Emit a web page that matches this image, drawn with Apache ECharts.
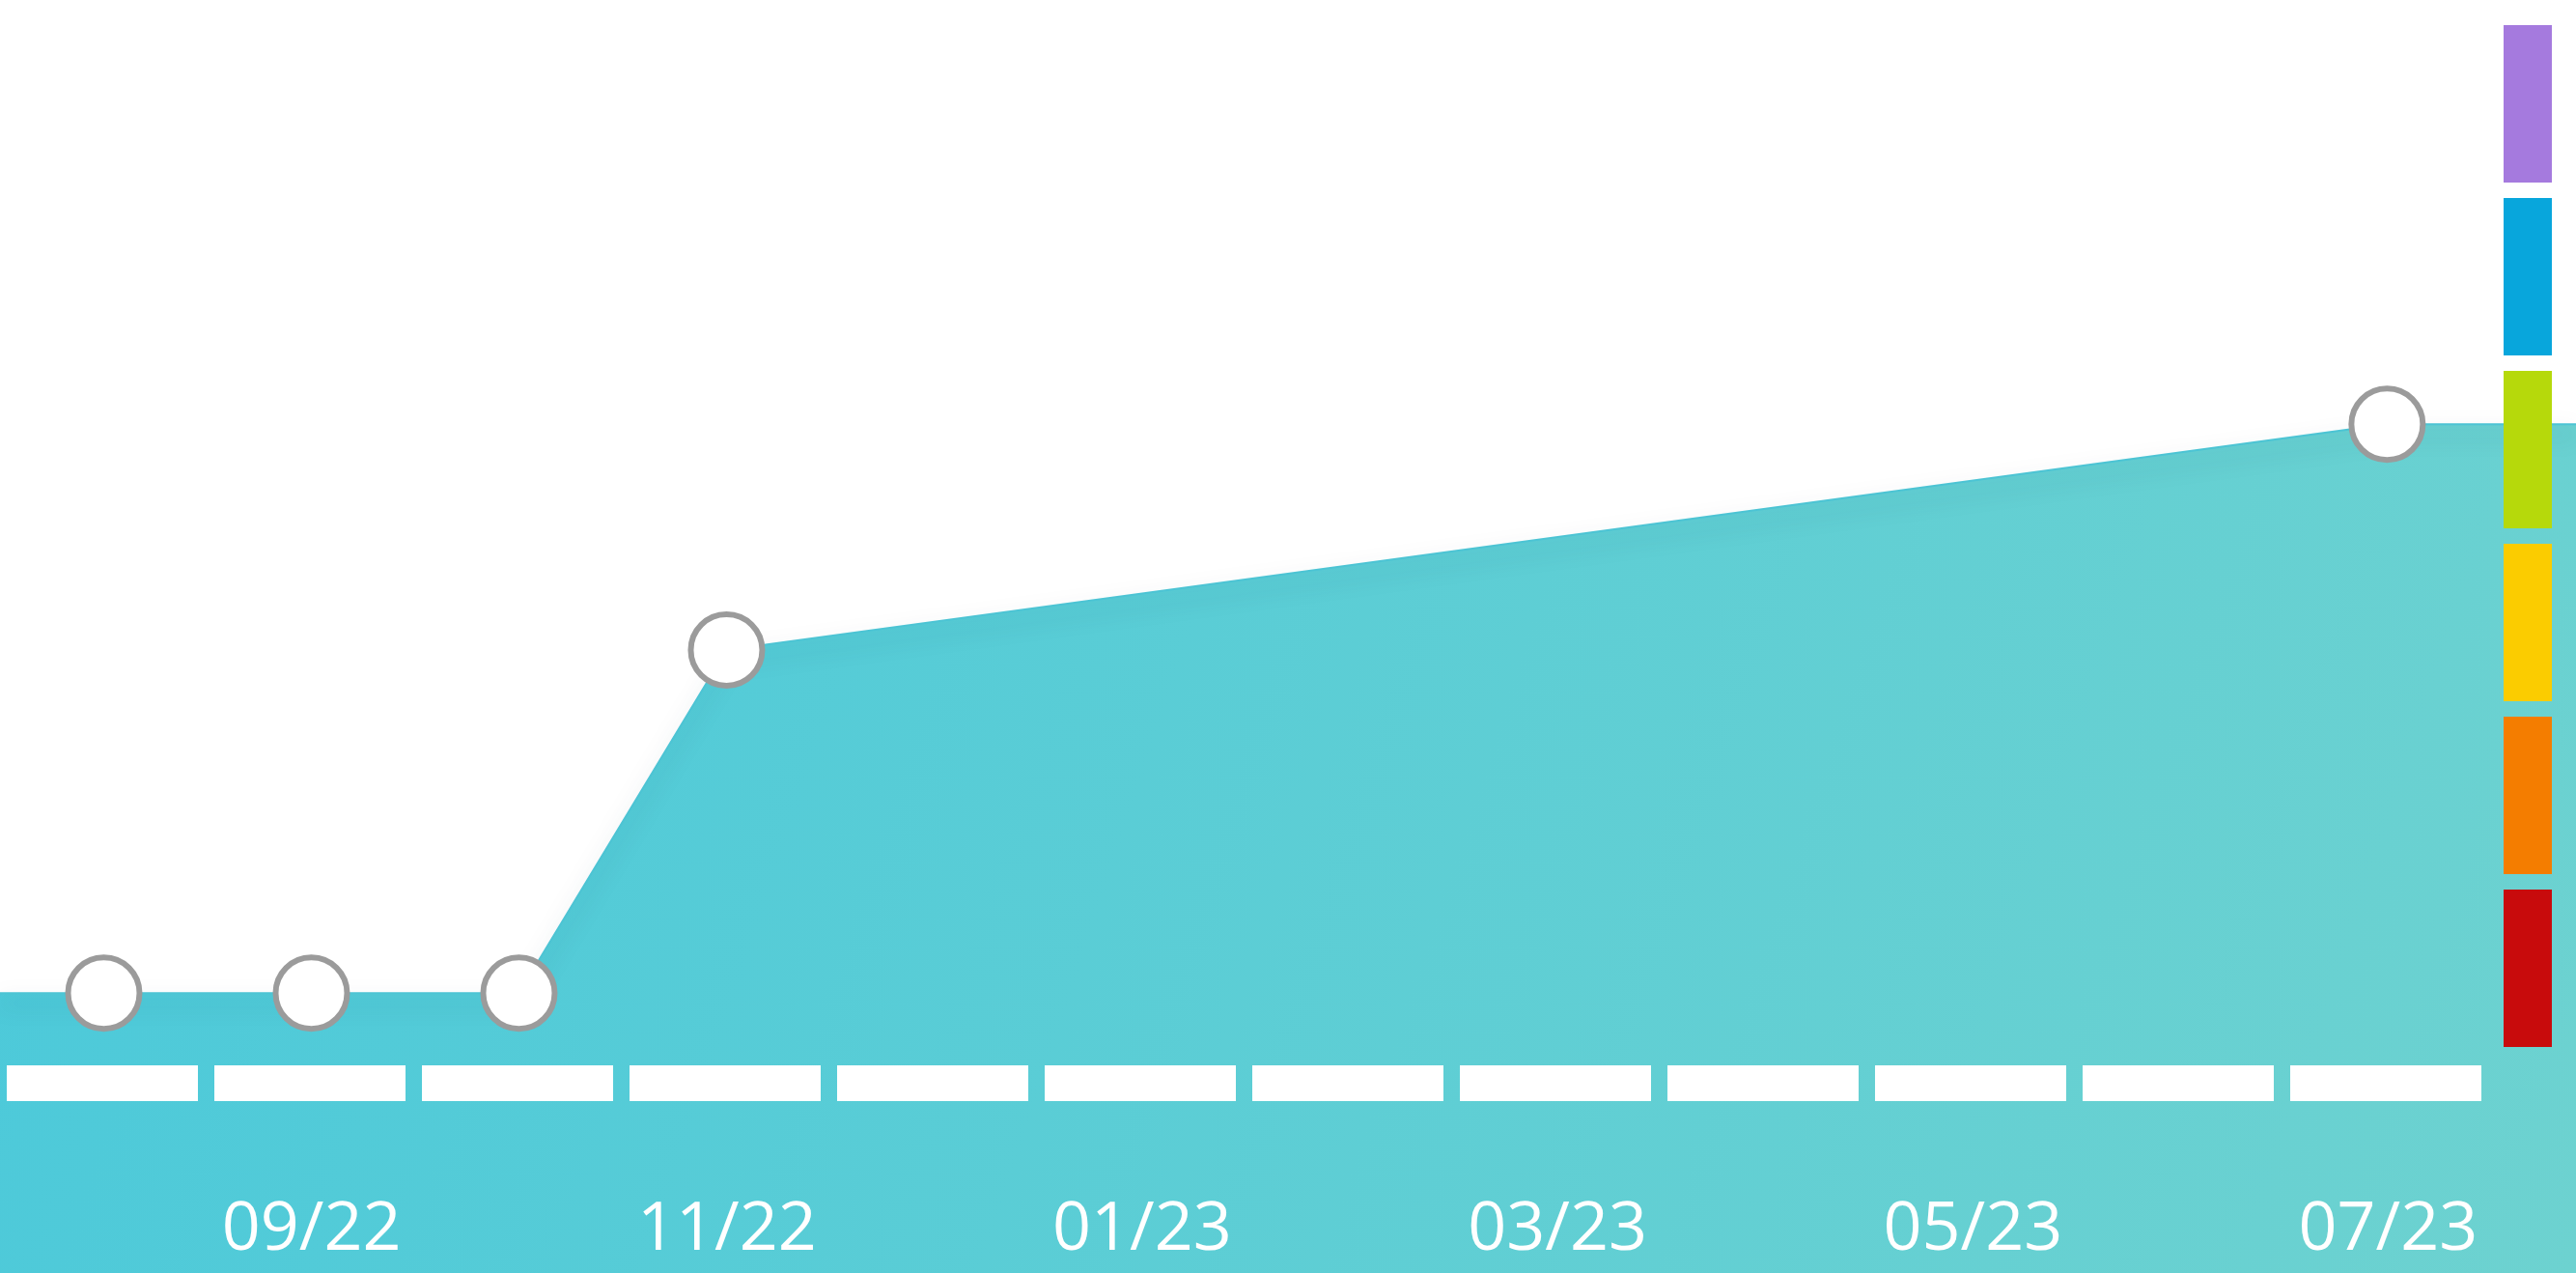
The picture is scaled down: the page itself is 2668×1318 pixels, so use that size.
<!DOCTYPE html>
<html lang="en">
<head>
<meta charset="UTF-8">
<title>Rating history</title>
<script src="https://cdn.jsdelivr.net/npm/echarts@6/dist/echarts.min.js"></script>
<style>
    body {
        margin: 0;
        padding: 0;
        overflow: hidden;
        background: #ffffff;
    }
    #chart {
        width: 2668px;
        height: 1318px;
    }
</style>
</head>
<body>
<div id="chart"></div>
<script>
    // monthly categories and rating level (null = no observation that month)
    var months = ['08/22', '09/22', '10/22', '11/22', '12/22', '01/23',
                  '02/23', '03/23', '04/23', '05/23', '06/23', '07/23'];
    var values = [1.0, 1.0, 1.0, 4.8, null, null, null, null, null, null, null, 7.3];
    // rating scale, low to high
    var scaleColors = ['#c80b0c', '#f47d00', '#fbcc00', '#b6d90b', '#08a6dc', '#a57ade'];

    var yMin = -2.1, yMax = 12;
    var xMin = -0.5, xMax = 11.91;   // area runs a bit past the last month

    var points = [];
    values.forEach(function (v, i) {
        if (v !== null) points.push([i, v]);
    });
    var areaData = [{ value: [xMin, points[0][1]], symbol: 'none' }]
        .concat(points)
        .concat([{ value: [xMax, points[points.length - 1][1]], symbol: 'none' }]);

    var pieces = scaleColors.map(function (c, i) {
        return { min: i, max: i + 1, color: c };
    });

    var myChart = echarts.init(document.getElementById('chart'));
    var option = {
        backgroundColor: '#ffffff',
        animation: false,
        grid: [
            // month axis sits on the zero line of the area grid
            { left: 0, right: 87, top: 0, bottom: 197, containLabel: false, outerBoundsMode: 'none' },
            { left: 0, right: 0, top: 0, bottom: 0, containLabel: false, outerBoundsMode: 'none' }
        ],
        xAxis: [{
            type: 'category',
            gridIndex: 0,
            data: months,
            boundaryGap: true,
            z: 10,
            axisLine: {
                onZero: false,
                lineStyle: { color: '#ffffff', width: 37, type: [198, 17], dashOffset: 208, cap: 'butt' }
            },
            axisTick: { show: false },
            axisLabel: {
                color: '#ffffff',
                fontSize: 70,
                fontFamily: 'Open Sans',
                margin: 118,
                interval: function (index) { return index % 2 === 1; }
            }
        }, {
            type: 'value',
            gridIndex: 1,
            min: xMin,
            max: xMax,
            show: false
        }],
        yAxis: [
            { type: 'value', gridIndex: 0, min: 0, max: yMax, show: false },
            { type: 'value', gridIndex: 1, min: yMin, max: yMax, show: false }
        ],
        visualMap: {
            type: 'piecewise',
            orient: 'vertical',
            right: 25,
            top: 26,
            padding: 0,
            itemWidth: 50,
            itemHeight: 163,
            itemGap: 16,
            itemSymbol: 'rect',
            showLabel: false,
            seriesIndex: 1,
            pieces: pieces
        },
        series: [{
            type: 'line',
            xAxisIndex: 1,
            yAxisIndex: 1,
            data: areaData,
            silent: true,
            symbol: 'circle',
            symbolSize: 74,
            itemStyle: { color: '#ffffff', borderColor: '#9b9b9b', borderWidth: 6 },
            lineStyle: {
                color: '#4cc4d4',
                width: 2,
                shadowColor: 'rgba(0, 70, 90, 0.4)',
                shadowBlur: 22,
                shadowOffsetY: 10
            },
            areaStyle: {
                origin: 'start',
                opacity: 1,
                color: new echarts.graphic.LinearGradient(0, 0, 1, 1, [
                    { offset: 0, color: '#4bc9da' },
                    { offset: 1, color: '#6dd2d0' }
                ])
            }
        }, {
            type: 'scatter',
            xAxisIndex: 0,
            yAxisIndex: 0,
            data: []
        }]
    };
    myChart.setOption(option);
</script>
</body>
</html>
